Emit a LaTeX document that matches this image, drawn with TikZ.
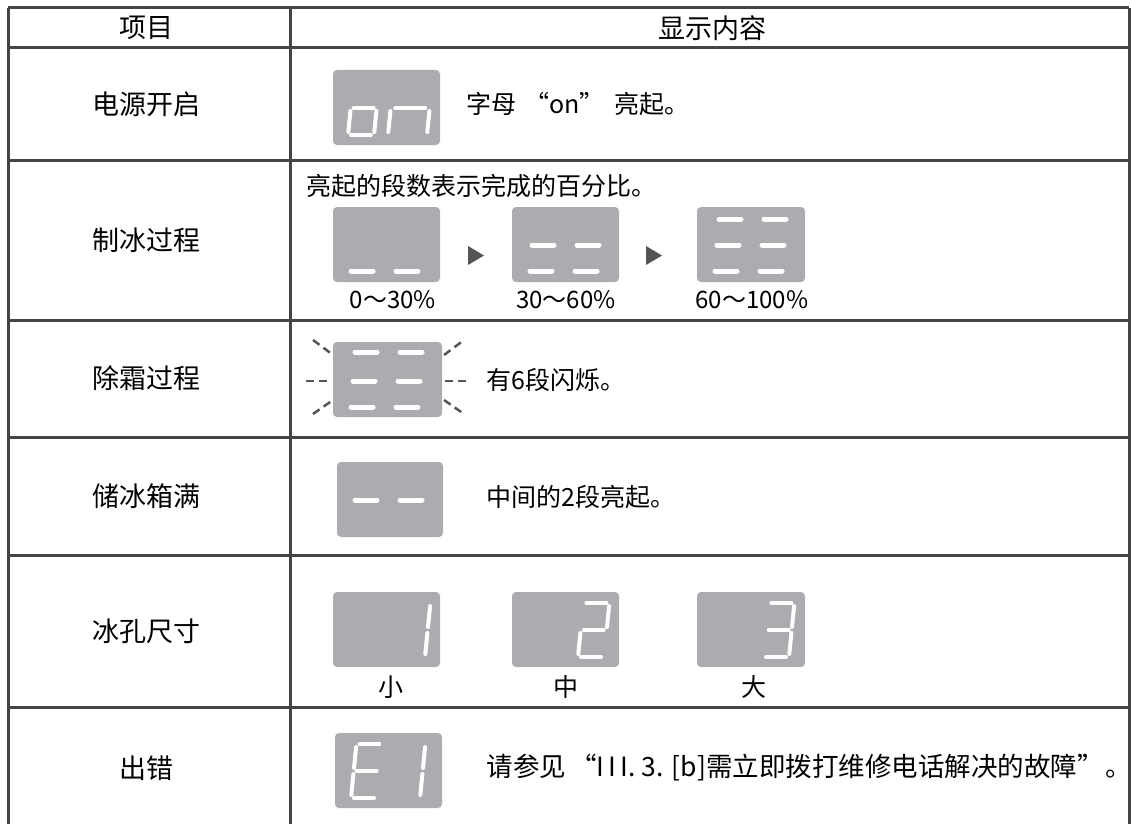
\documentclass[tikz,border=0pt]{standalone}
\usepackage{fontspec}
\setmainfont{Noto Sans CJK SC}

\definecolor{rulegray}{HTML}{444444}
\definecolor{lcdgray}{HTML}{ABACAF}
\definecolor{tipgray}{HTML}{555555}

\tikzset{
  rule/.style={draw=rulegray, line width=3pt},
  lcdbox/.style={fill=lcdgray, rounded corners=4pt},
  seg/.style={draw=white, line width=4pt, line cap=round},
  bar/.style={draw=white, line width=5pt, line cap=round},
  ray/.style={draw=tipgray, line width=2.5pt, dash pattern=on 8pt off 5pt},
  head/.style={font=\fontsize{27}{27}\selectfont},
  body/.style={anchor=west, font=\fontsize{25}{25}\selectfont},
  small/.style={font=\fontsize{24}{24}\selectfont},
}

% seven segments of one digit, 26 wide and 54 high
\newcommand{\sega}{\draw[seg] (3,-54) -- (23,-54);}
\newcommand{\segb}{\draw[seg] (26,-51) -- (26,-30);}
\newcommand{\segc}{\draw[seg] (26,-24) -- (26,-3);}
\newcommand{\segd}{\draw[seg] (3,0) -- (23,0);}
\newcommand{\sege}{\draw[seg] (0,-24) -- (0,-3);}
\newcommand{\segf}{\draw[seg] (0,-51) -- (0,-30);}
\newcommand{\segg}{\draw[seg] (3,-27) -- (23,-27);}
\newcommand{\lcddigit}[4]{%
  \begin{scope}[shift={(#1,#2)}, xslant=0.1, xscale=#3]
    \foreach \s in {#4} {\csname seg\s\endcsname}
  \end{scope}}
\newcommand{\barpair}[2]{\draw[bar] (#1,#2) -- ++(22,0) (#1+45,#2) -- ++(22,0);}

\begin{document}
\begin{tikzpicture}[x=1pt, y=-1pt]
  \useasboundingbox (0,0) rectangle (1131,824);

  % table
  \foreach \y in {8,48,160,320,437,555,707}
    \draw[rule] (8,\y) -- (1129,\y);
  \foreach \x in {8,290,1129}
    \draw[rule] (\x,8) -- (\x,824);

  \node[head] (item) at (146,28) {项目};
  \node[head] (show) at (712,28) {显示内容};

  \node[head] (power) at (146,104) {电源开启};
  \node[head] (making) at (146,240) {制冰过程};
  \node[head] (defrost) at (146,378) {除霜过程};
  \node[head] (full) at (146,496) {储冰箱满};
  \node[head] (size) at (146,631) {冰孔尺寸};
  \node[head] (error) at (146,768) {出错};

  % power on
  \fill[lcdbox] (333,70) rectangle (440,145);
  \lcddigit{348}{135}{1}{g,c,d,e}
  \lcddigit{388}{135}{1.5}{g,c,e}
  \node[body] (powertext) at (463,104) {字母\hspace{8pt}“on”\hspace{10pt}亮起。};

  % ice making
  \node[body] (makingtext) at (303,186) {亮起的段数表示完成的百分比。};
  \fill[lcdbox] (333,207) rectangle (440,282);
  \fill[lcdbox] (512,207) rectangle (619,282);
  \fill[lcdbox] (697,207) rectangle (805,282);
  \barpair{333+18}{207+64}
  \barpair{512+20}{207+38}
  \barpair{512+18}{207+64}
  \barpair{697+22}{207+12}
  \barpair{697+20}{207+38}
  \barpair{697+18}{207+64}
  \fill[tipgray] (468,246) -- (468,265) -- (484,255.5) -- cycle;
  \fill[tipgray] (646,246) -- (646,265) -- (662,255.5) -- cycle;
  \node[small] (pa) at (393,300) {0～30\%};
  \node[small] (pb) at (566,300) {30～60\%};
  \node[small] (pc) at (752,300) {60～100\%};

  % defrost
  \fill[lcdbox] (333,342) rectangle (442,417);
  \barpair{333+22}{342+10}
  \barpair{333+20}{342+39}
  \barpair{333+18}{342+65}
  \draw[ray] (313,340) -- (333,355);
  \draw[ray] (306,381) -- (331,381);
  \draw[ray] (313,414) -- (333,400);
  \draw[ray] (444,355) -- (464,340);
  \draw[ray] (445,381) -- (468,381);
  \draw[ray] (444,400) -- (464,414);
  \node[body] (defrosttext) at (483,380) {有6段闪烁。};

  % bin full
  \fill[lcdbox] (337,462) rectangle (443,537);
  \barpair{337+18}{462+38}
  \node[body] (fulltext) at (483,497) {中间的2段亮起。};

  % ice size
  \fill[lcdbox] (333,592) rectangle (440,667);
  \fill[lcdbox] (512,592) rectangle (619,667);
  \fill[lcdbox] (697,592) rectangle (805,667);
  \lcddigit{399}{657}{1}{b,c}
  \lcddigit{578}{657}{1}{a,b,g,e,d}
  \lcddigit{763}{657}{1}{a,b,g,c,d}
  \node[body, anchor=center] (small) at (391,687) {小};
  \node[body, anchor=center] (medium) at (566,687) {中};
  \node[body, anchor=center] (large) at (754,687) {大};

  % error
  \fill[lcdbox] (335,733) rectangle (442,808);
  \lcddigit{351}{798}{1}{a,f,g,e,d}
  \lcddigit{394}{798}{1}{b,c}
  \node[body, font=\fontsize{26.5}{26.5}\selectfont] (errortext) at (483,768)
    {请参见\hspace{4pt}“I\,I\,I. 3. [b]需立即拨打维修电话解决的故障”\hspace{2pt}。};
\end{tikzpicture}
\end{document}
